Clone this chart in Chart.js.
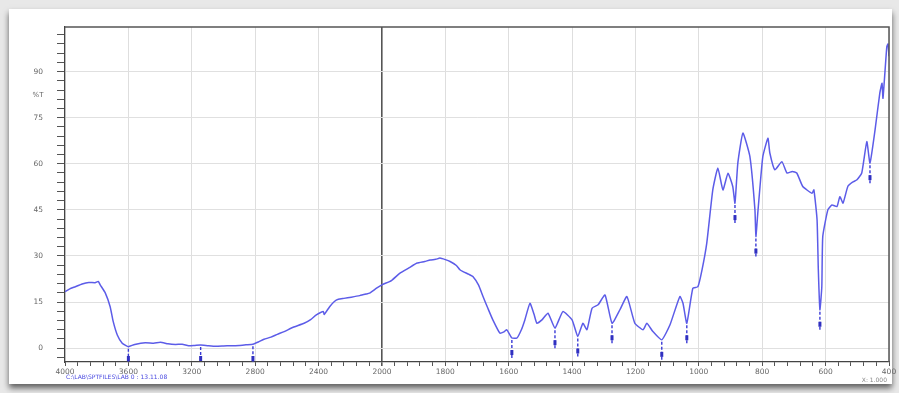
<!DOCTYPE html>
<html><head><meta charset="utf-8">
<script src="https://cdn.jsdelivr.net/npm/chart.js@4/dist/chart.umd.min.js"></script>
<style>
html,body{margin:0;padding:0;width:899px;height:393px;overflow:hidden;background:#e8e8e8;}
#card{position:absolute;left:9px;top:9px;width:883px;height:375px;background:#fff;box-shadow:0 4px 6px rgba(0,0,0,0.6);}
#wrap{position:absolute;left:0;top:0;width:899px;height:393px;}
</style></head><body>
<div id="card"></div>
<div id="wrap"><canvas id="c" width="899" height="393"></canvas></div>
<script>
// Wavenumbers (cm-1) and %T
const wavenumbers = [4000,3970,3935,3892,3850,3810,3790,3778,3746,3715,3696,3670,3639,3615,3600,3560,3493,3440,3398,3350,3302,3260,3220,3180,3144,3100,3049,3000,2954,2900,2858,2814,2780,2744,2700,2660,2617,2560,2491,2450,2414,2370,2364,2330,2300,2275,2240,2193,2140,2100,2078,2034,2000,
1970,1943,1915,1889,1865,1848,1830,1817,1800,1785,1765,1754,1744,1725,1713,1695,1681,1665,1650,1628,1615,1606,1590,1574,1560,1549,1533,1520,1511,1495,1476,1454,1429,1400,1382,1366,1353,1337,1318,1296,1274,1249,1227,1202,1176,1164,1145,1117,1091,1060,1050,1038,1019,1003,990,975,956,940,924,908,893,886,877,861,839,823,820,814,807,798,782,776,760,738,722,705,691,672,643,637,627,623,618,612,609,593,580,564,555,545,530,515,501,486,470,460,444,429,422,419,407,403,400];
const transmittance = [18.4,19.3,20.0,20.9,21.4,21.3,21.7,20.6,18.0,13.5,8.7,4.3,1.6,0.8,0.5,1.2,1.8,1.6,1.9,1.4,1.2,1.3,0.8,0.9,1.0,0.8,0.6,0.7,0.8,0.9,1.1,1.3,2.0,2.9,3.6,4.5,5.4,6.8,8.1,9.3,10.8,11.9,11.0,13.5,15.2,15.9,16.2,16.6,17.1,17.6,17.9,19.5,20.6,
22.0,24.4,26.1,27.7,28.2,28.7,28.9,29.3,28.8,28.2,26.9,25.5,24.9,24.0,23.3,20.5,16.8,12.8,9.2,4.9,5.3,6.0,3.3,3.3,6.0,9.2,14.6,11.0,8.1,9.2,11.4,6.5,11.9,9.2,3.8,8.1,6.0,13.0,14.1,17.3,8.1,12.5,16.8,8.1,6.0,8.1,5.4,2.7,7.6,16.8,14.6,8.1,19.5,20.0,25.5,34.2,51.5,58.6,51.5,56.9,52.6,47.2,60.2,70.0,62.4,45.0,36.3,44.0,52.6,62.4,68.3,63.5,58.0,60.7,57.0,57.5,57.0,52.6,50.4,51.5,41.8,25.5,12.5,20.0,36.3,45.0,46.6,46.1,49.3,47.2,52.6,54.0,54.8,57.0,67.2,60.2,71.0,83.0,86.2,81.3,98.0,99.0,95.0];
// Picked peaks (marker positions)
const peakWavenumbers = [3600,3144,2814,1590,1454,1382,1274,1117,1038,886,820,618,460];
const peakValues = [0.5,1.0,1.3,3.3,6.5,3.8,8.1,2.7,8.1,47.2,36.3,12.5,60.2];
// Axis tick labels
const xTickLabels = [4000,3600,3200,2800,2400,2000,1800,1600,1400,1200,1000,800,600,400];
const yTickLabels = [0,15,30,45,60,75,90];

// Instrument x scale: 4000-2000 compressed x2, 2000-400 expanded
function toPos(w){ return w >= 2000 ? (4000 - w) / 2 : 1000 + (2000 - w); }
function fromPos(p){ return p <= 1000 ? 4000 - 2 * p : 2000 - (p - 1000); }

const points = wavenumbers.map((w, i) => ({x: toPos(w), y: transmittance[i]}));

const isMajorX = v => xTickLabels.includes(Math.round(fromPos(v))) && Math.round(v) % 200 === 0;
const isMajorY = v => yTickLabels.includes(Math.round(v)) && Math.abs(v - Math.round(v)) < 1e-6;

const decor = {
  id: 'decor',
  afterDatasetsDraw(chart) {
    const {ctx, scales: {x, y}} = chart;
    ctx.save();
    ctx.strokeStyle = '#3a3ad6';
    ctx.fillStyle = '#3030c0';
    ctx.lineWidth = 1.4;
    ctx.setLineDash([3, 2]);
    peakWavenumbers.forEach((w, i) => {
      const px = x.getPixelForValue(toPos(w));
      const py = y.getPixelForValue(peakValues[i]);
      ctx.beginPath();
      ctx.moveTo(px, py + 2);
      ctx.lineTo(px, Math.min(py + 20, chart.chartArea.bottom));
      ctx.stroke();
    });
    ctx.setLineDash([]);
    peakWavenumbers.forEach((w, i) => {
      const px = x.getPixelForValue(toPos(w));
      const py = y.getPixelForValue(peakValues[i]);
      const yy = Math.min(py + 12, chart.chartArea.bottom - 6);
      ctx.fillRect(px - 1.5, yy, 3, 5);
    });
    ctx.restore();
  },
  afterDraw(chart) {
    const {ctx, chartArea: a} = chart;
    ctx.save();
    ctx.strokeStyle = '#555';
    ctx.lineWidth = 1.5;
    ctx.beginPath();
    ctx.moveTo(a.left, a.top);
    ctx.lineTo(a.right, a.top);
    ctx.lineTo(a.right, a.bottom);
    ctx.stroke();
    ctx.fillStyle = '#666';
    ctx.font = '7px "DejaVu Sans"';
    ctx.textAlign = 'center';
    ctx.textBaseline = 'middle';
    ctx.fillText('%T', 38, 95);
    ctx.fillStyle = '#4a4ae0';
    ctx.font = '6px "DejaVu Sans"';
    ctx.textAlign = 'left';
    ctx.fillText('C:\\LAB\\SPTFILES\\LAB 0 : 13.11.08', 66, 377);
    ctx.fillStyle = '#888';
    ctx.textAlign = 'right';
    ctx.fillText('X: 1.000', 887, 380);
    ctx.restore();
  }
};

new Chart(document.getElementById('c'), {
  type: 'line',
  data: {
    datasets: [{
      data: points,
      borderColor: '#5c5ce8',
      borderWidth: 1.5,
      pointRadius: 0,
      tension: 0.15,
      fill: false
    }]
  },
  options: {
    responsive: false,
    animation: false,
    devicePixelRatio: 1,
    parsing: false,
    layout: {padding: {left: 0, top: 27, right: 10, bottom: 0}},
    plugins: {legend: {display: false}, tooltip: {enabled: false}},
    scales: {
      x: {
        type: 'linear',
        min: 0,
        max: 2600,
        afterFit: s => { s.height = 31; },
        border: {color: '#444', width: 1.2},
        grid: {
          color: c => (c.tick && isMajorX(c.tick.value)) ? (Math.round(c.tick.value) === 1000 ? '#555' : '#dedede') : 'rgba(0,0,0,0)',
          lineWidth: c => (c.tick && Math.round(c.tick.value) === 1000) ? 1.6 : 1,
          tickColor: '#555',
          tickLength: 4
        },
        ticks: {
          stepSize: 40,
          includeBounds: false,
          autoSkip: false,
          maxRotation: 0,
          padding: 2,
          color: '#666',
          font: {family: 'DejaVu Sans', size: 7.5},
          callback: v => isMajorX(v) ? String(Math.round(fromPos(v))) : ''
        }
      },
      y: {
        type: 'linear',
        min: -4.5,
        max: 104.5,
        afterFit: s => { s.width = 65; },
        border: {color: '#444', width: 1.2},
        grid: {
          color: c => (c.tick && isMajorY(c.tick.value)) ? '#e0e0e0' : 'rgba(0,0,0,0)',
          tickColor: '#555',
          tickLength: 8
        },
        ticks: {
          stepSize: 3,
          includeBounds: false,
          autoSkip: false,
          padding: 14,
          color: '#666',
          font: {family: 'DejaVu Sans', size: 7.5},
          callback: v => isMajorY(v) ? String(Math.round(v)) : ''
        }
      }
    }
  },
  plugins: [decor]
});
</script>
</body></html>
